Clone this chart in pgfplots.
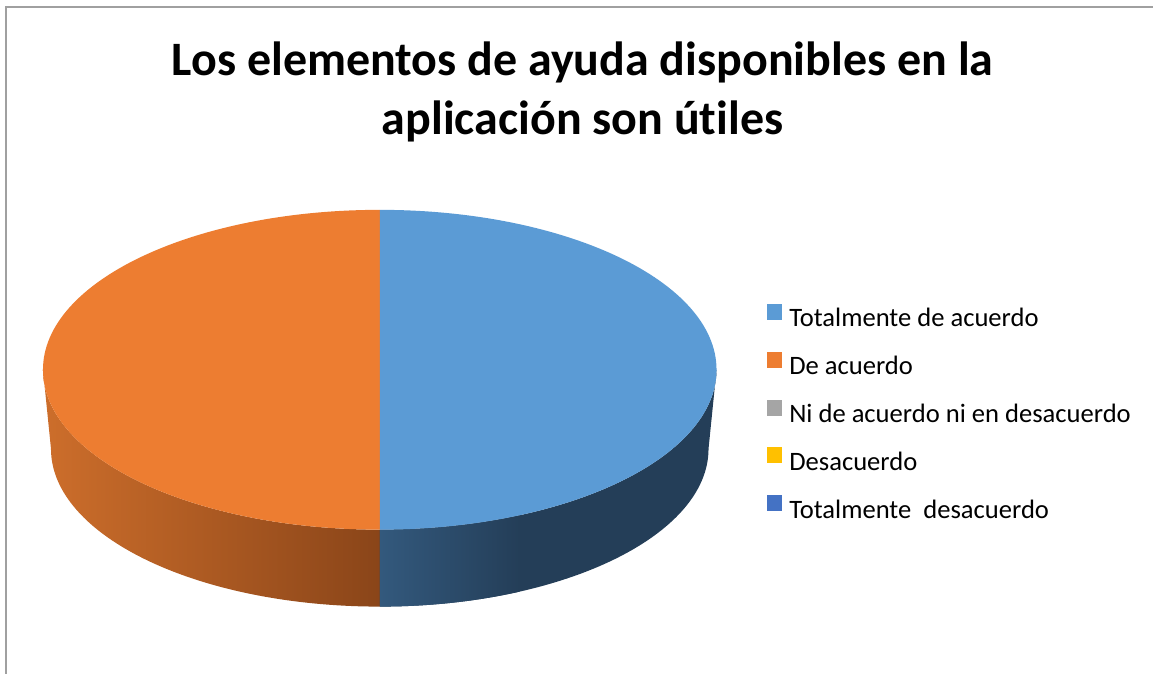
\documentclass[border=0pt]{standalone}
\usepackage{pgfplots}
\pgfplotsset{compat=1.18}
\usepackage{fontspec}
\setmainfont{Carlito}[RawFeature={-liga;-clig;-dlig}]
\definecolor{cBlue}{HTML}{5B9BD5}
\definecolor{cOrange}{HTML}{ED7D31}
\definecolor{cGray}{HTML}{A5A5A5}
\definecolor{cYellow}{HTML}{FFC000}
\definecolor{cDBlue}{HTML}{4472C4}
\definecolor{sideO1}{HTML}{CD6E2B}
\definecolor{sideO2}{HTML}{8A4519}
\definecolor{sideB1}{HTML}{33597D}
\definecolor{sideB2}{HTML}{243E58}
\definecolor{frame}{HTML}{A0A0A0}
% Values: Totalmente de acuerdo 50, De acuerdo 50, Ni de acuerdo ni en desacuerdo 0, Desacuerdo 0, Totalmente desacuerdo 0
\begin{document}
\begin{tikzpicture}
\begin{axis}[
  scale only axis, width=577pt, height=337pt,
  xmin=0, xmax=1154, ymin=0, ymax=674,
  hide axis, clip=false,
  legend image code/.code={\fill[#1] (0pt,0.5pt) rectangle (7.5pt,8pt);},
  legend style={at={(axis cs:767,370)}, anchor=north west, draw=none, fill=none,
    inner sep=0pt, outer sep=0pt, row sep=9.5pt, column sep=3.5pt,
    font=\fontsize{13.3}{16}\selectfont,
    nodes={inner sep=0pt, text height=9.5pt, text depth=3pt}},
  legend cell align=left,
]
\path (axis cs:0,0) (axis cs:1154,674);
% frame
\draw[frame, line width=0.75pt] (axis cs:6,0) -- (axis cs:6,667) -- (axis cs:1154,667);
% orange side
\shade[left color=sideO1, right color=sideO2]
  (axis cs:43,304) arc[start angle=180, end angle=270, x radius=168.5pt, y radius=80pt]
  -- (axis cs:380,67) arc[start angle=270, end angle=180, x radius=164.5pt, y radius=79pt] -- cycle;
% blue side
\fill[sideB2]
  (axis cs:380,144) arc[start angle=270, end angle=360, x radius=168.5pt, y radius=80pt]
  -- (axis cs:709,225) arc[start angle=0, end angle=-90, x radius=164.5pt, y radius=79pt] -- cycle;
\begin{scope}
\clip (axis cs:380,144) arc[start angle=270, end angle=360, x radius=168.5pt, y radius=80pt]
  -- (axis cs:709,225) arc[start angle=0, end angle=-90, x radius=164.5pt, y radius=79pt] -- cycle;
\shade[left color=sideB1, right color=sideB2] (axis cs:380,40) rectangle (axis cs:520,320);
\end{scope}
% tops
\fill[cOrange] (axis cs:380,304) -- (axis cs:380,464)
  arc[start angle=90, end angle=270, x radius=168.5pt, y radius=80pt] -- cycle;
\fill[cBlue] (axis cs:380,304) -- (axis cs:380,464)
  arc[start angle=90, end angle=-90, x radius=168.5pt, y radius=80pt] -- cycle;
% title
\node[anchor=base, inner sep=0pt, font=\fontsize{24}{29}\selectfont\bfseries] at (axis cs:583,598) {Los elementos de ayuda disponibles en la};
\node[anchor=base, inner sep=0pt, font=\fontsize{24}{29}\selectfont\bfseries] at (axis cs:583,539) {aplicación son út\kern0pt iles};
% legend
\addlegendimage{cBlue}
\addlegendentry{Totalmente de acuerdo}
\addlegendimage{cOrange}
\addlegendentry{De acuerdo}
\addlegendimage{cGray}
\addlegendentry{Ni de acuerdo ni en desacuerdo}
\addlegendimage{cYellow}
\addlegendentry{Desacuerdo}
\addlegendimage{cDBlue}
\addlegendentry{Totalmente\ \ desacuerdo}
\end{axis}
\end{tikzpicture}
\end{document}
